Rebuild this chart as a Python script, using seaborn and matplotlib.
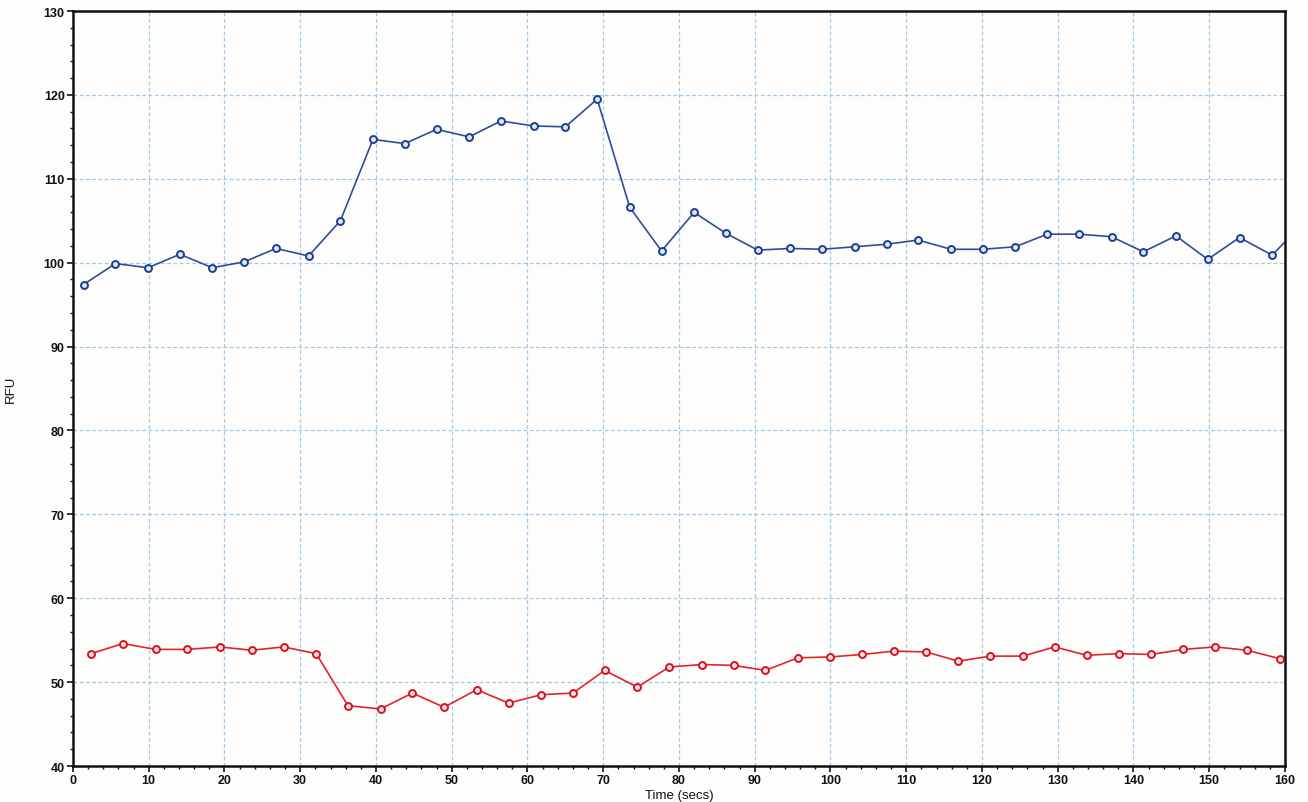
import matplotlib
matplotlib.use("Agg")
import matplotlib.pyplot as plt
from matplotlib.ticker import MultipleLocator
import seaborn as sns
import pandas as pd

# Fluorescence readings (RFU) over time for two channels
time_blue = [1.4, 5.6, 9.9, 14.1, 18.4, 22.6, 26.8, 31.1, 35.3, 39.6, 43.8, 48.0, 52.3,
             56.5, 60.8, 65.0, 69.2, 73.5, 77.7, 82.0, 86.2, 90.4, 94.7, 98.9, 103.2,
             107.4, 111.6, 115.9, 120.1, 124.4, 128.6, 132.8, 137.1, 141.3, 145.6,
             149.8, 154.0, 158.3, 162.5]
rfu_blue = [97.4, 99.9, 99.4, 101.0, 99.4, 100.1, 101.7, 100.8, 105.0, 114.7, 114.2, 115.9,
            115.0, 116.9, 116.3, 116.2, 119.5, 106.6, 101.4, 106.0, 103.5, 101.5, 101.7,
            101.6, 101.9, 102.2, 102.7, 101.6, 101.6, 101.9, 103.4, 103.4, 103.1, 101.3,
            103.2, 100.4, 103.0, 100.9, 104.8]

time_red = [2.4, 6.6, 10.9, 15.1, 19.4, 23.6, 27.8, 32.1, 36.3, 40.6, 44.8, 49.0, 53.3,
            57.5, 61.8, 66.0, 70.2, 74.5, 78.7, 83.0, 87.2, 91.4, 95.7, 99.9, 104.2,
            108.4, 112.6, 116.9, 121.1, 125.4, 129.6, 133.8, 138.1, 142.3, 146.6,
            150.8, 155.0, 159.3]
rfu_red = [53.4, 54.6, 53.9, 53.9, 54.2, 53.8, 54.2, 53.4, 47.2, 46.8, 48.7, 47.0, 49.1,
           47.5, 48.5, 48.7, 51.4, 49.4, 51.8, 52.1, 52.0, 51.4, 52.9, 53.0, 53.3, 53.7,
           53.6, 52.5, 53.1, 53.1, 54.2, 53.2, 53.4, 53.3, 53.9, 54.2, 53.8, 52.8]

x_ticks = list(range(0, 161, 10))
y_ticks = list(range(40, 131, 10))

df_blue = pd.DataFrame({"Time (secs)": time_blue, "RFU": rfu_blue})
df_red = pd.DataFrame({"Time (secs)": time_red, "RFU": rfu_red})

sns.set_style("white")
plt.rcParams["font.family"] = ["Liberation Sans", "DejaVu Sans"]

fig = plt.figure(figsize=(13.08, 8.03), dpi=100, facecolor="#fdfdfb")
ax = fig.add_axes([0.0558, 0.0448, 0.9266, 0.9402])
ax.set_facecolor("#fdfdfb")

blue = "#2f4d9a"
red = "#e0242e"
sns.lineplot(data=df_blue, x="Time (secs)", y="RFU", ax=ax, color=blue, linewidth=1.2,
             marker="o", markersize=5, markerfacecolor="#dfe6f5", markeredgecolor="#1f3f8a",
             markeredgewidth=1.4, sort=False, estimator=None)
sns.lineplot(data=df_red, x="Time (secs)", y="RFU", ax=ax, color=red, linewidth=1.2,
             marker="o", markersize=5, markerfacecolor="#fbe0e0", markeredgecolor="#d4141e",
             markeredgewidth=1.4, sort=False, estimator=None)

ax.set_xlim(0, 160)
ax.set_ylim(40, 130)
ax.set_xticks(x_ticks)
ax.set_yticks(y_ticks)
ax.xaxis.set_minor_locator(MultipleLocator(2))
ax.yaxis.set_minor_locator(MultipleLocator(2))
ax.tick_params(axis="both", which="major", direction="out", length=4, width=1.2,
               labelsize=9, colors="#111111", pad=2)
ax.tick_params(axis="both", which="minor", direction="out", length=2.5, width=1.0,
               colors="#111111")
ax.tick_params(bottom=True, left=True, which="both")
for lbl in ax.get_xticklabels() + ax.get_yticklabels():
    lbl.set_fontweight("bold")

ax.grid(True, which="major", color="#9ec9ea", linestyle=(0, (3, 2)), linewidth=0.9)
for side in ["left", "bottom", "top", "right"]:
    ax.spines[side].set_visible(True)
    ax.spines[side].set_color("#111111")
    ax.spines[side].set_linewidth(1.8)

ax.set_xlabel("Time (secs)", fontsize=9.5, color="#111111", labelpad=2)
ax.set_ylabel("RFU", fontsize=9.5, color="#111111")
ax.yaxis.set_label_coords(-0.046, 0.5)

fig.savefig("out.png", dpi=100, facecolor=fig.get_facecolor())
